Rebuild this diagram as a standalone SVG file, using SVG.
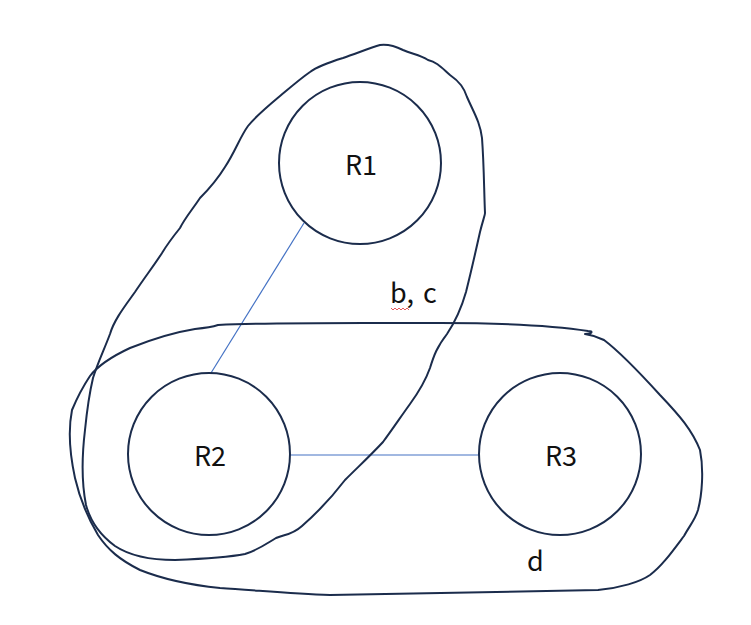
<svg xmlns="http://www.w3.org/2000/svg" width="751" height="625" viewBox="0 0 751 625">
<style>
.blob{fill:none;stroke:#1b2c4c;stroke-width:2;stroke-linejoin:round;stroke-linecap:round}
.node{fill:#fff;stroke:#1b2c4c;stroke-width:2}
.edge{stroke:#4472c4;stroke-width:1.2;fill:none}
.lbl{font-family:"Noto Sans CJK SC","Noto Sans",sans-serif;font-size:27px;fill:#111}
</style>
<rect width="751" height="625" fill="#fff"/>
<g id="connectors">
<line class="edge" x1="304" y1="223" x2="211" y2="373"/>
<line class="edge" x1="290" y1="455" x2="480" y2="455"/>
</g>
<g id="region-bc">
<path class="blob" d="M380,45 C370,48 355,54 343,58 C330,62 318,66 310,72 C300,79 292,86 280,96 C268,106 255,117 248,126 C240,137 235,152 225,167 C217,180 210,188 200,198 C192,210 185,218 180,228 C172,238 168,243 162,253 C155,264 145,277 135,292 C125,306 114,320 110,334 C104,350 98,362 93,378 C89,395 87,410 85,430 C82,455 81,480 86,505 C90,520 100,535 115,546 C130,556 150,560 175,560 C200,559 225,558 245,554 C258,550 266,544 276,538 C286,534 292,535 302,526 C318,512 332,497 345,480 C358,467 370,456 383,442 C392,430 402,415 410,404 C418,393 425,382 430,368 C434,355 437,347 447,334 C455,322 462,306 466,292 C471,272 476,250 480,232 C483,220 485,215 485,213 C484,190 484,165 482,138 C480,122 474,113 467,97 C464,88 460,82 450,75 C442,68 437,62 428,60 C420,55 412,54 403,50 C395,46 388,44 380,45 Z"/>
</g>
<g id="region-d">
<path class="blob" d="M218,325 C280,322 360,323 440,323 C500,323 550,325 588,331 C594,331 592,334 585,334 C592,335 598,337 604,340 C620,352 640,373 660,395 C680,416 692,430 700,450 C704,470 702,495 698,510 C695,520 690,525 684,536 C672,552 662,566 650,575 C640,582 620,588 598,590 C510,592 420,593 330,595 C290,594 255,590 220,588 C190,585 165,580 140,570 C120,560 108,550 98,535 C88,518 80,500 75,478 C70,455 68,430 72,410 C77,398 82,388 90,376 C100,363 115,355 130,348 C150,340 170,333 195,329 C205,328 212,327 218,325 Z"/>
</g>
<g id="R1">
<circle class="node" cx="360" cy="163" r="81"/>
<text class="lbl" x="361" y="175" text-anchor="middle">R1</text>
</g>
<g id="R2">
<circle class="node" cx="209" cy="454" r="81"/>
<text class="lbl" x="210" y="466" text-anchor="middle">R2</text>
</g>
<g id="R3">
<circle class="node" cx="560" cy="454" r="81"/>
<text class="lbl" x="561" y="466" text-anchor="middle">R3</text>
</g>
<g id="label-bc">
<text class="lbl" x="390" y="303" word-spacing="3">b, c</text>
<path d="M391,308 l2,2 l2,-2 l2,2 l2,-2 l2,2 l2,-2 l2,2 l2,-2 l2,2" fill="none" stroke="#e03030" stroke-width="0.8"/>
</g>
<g id="label-d">
<text class="lbl" x="527" y="571">d</text>
</g>
</svg>
